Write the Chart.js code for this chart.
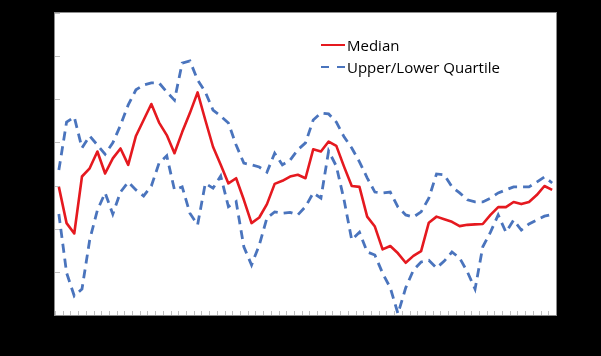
<!DOCTYPE html>
<html>
<head>
<meta charset="utf-8">
<script src="https://cdn.jsdelivr.net/npm/chart.js@4/dist/chart.umd.min.js"></script>
<style>
  html, body { margin: 0; padding: 0; background: #000; }
  #wrap { position: relative; width: 601px; height: 356px; }
  #legend { position: absolute; left: 321px; top: 34px; font-family: 'Open Sans', sans-serif; font-size: 15px; color: #000; line-height: 22px; }
  .item { display: flex; align-items: center; white-space: nowrap; }
  .sw { display: inline-block; width: 24px; height: 2.5px; margin-right: 2px; }
</style>
</head>
<body>
<div id="wrap">
  <canvas id="c" width="601" height="356"></canvas>
  <div id="legend"></div>
</div>
<script>
const categories = [1,2,3,4,5,6,7,8,9,10,11,12,13,14,15,16,17,18,19,20,21,22,23,24,25,26,27,28,29,30,31,32,33,34,35,36,37,38,39,40,41,42,43,44,45,46,47,48,49,50,51,52,53,54,55,56,57,58,59,60,61,62,63,64,65];
const yTicks = [0,1,2,3,4,5,6,7];

const median = [2.97,2.13,1.89,3.21,3.40,3.79,3.28,3.63,3.86,3.48,
                4.15,4.52,4.89,4.46,4.17,3.75,4.24,4.68,5.16,4.52,
                3.90,3.48,3.05,3.17,2.67,2.13,2.26,2.57,3.04,3.11,
                3.21,3.25,3.17,3.84,3.79,4.02,3.92,3.44,2.99,2.97,
                2.28,2.05,1.52,1.60,1.43,1.21,1.37,1.48,2.14,2.28,
                2.22,2.16,2.06,2.09,2.10,2.11,2.32,2.50,2.50,2.62,
                2.57,2.62,2.78,2.99,2.90];

const upper = [3.36,4.47,4.59,3.87,4.15,3.94,3.73,3.99,4.40,4.87,
               5.22,5.33,5.38,5.38,5.17,4.98,5.84,5.89,5.45,5.17,
               4.75,4.61,4.45,3.94,3.52,3.48,3.43,3.31,3.75,3.48,
               3.59,3.83,3.99,4.52,4.68,4.66,4.47,4.13,3.87,3.55,
               3.18,2.85,2.83,2.85,2.50,2.32,2.27,2.39,2.71,3.27,
               3.25,2.97,2.83,2.67,2.62,2.62,2.71,2.83,2.90,2.97,
               2.97,2.97,3.08,3.20,3.06];

const lower = [2.34,0.98,0.44,0.60,1.74,2.43,2.83,2.34,2.85,3.08,
               2.90,2.76,2.99,3.52,3.69,2.90,2.97,2.36,2.09,3.05,
               2.94,3.22,2.51,2.63,1.58,1.16,1.62,2.25,2.39,2.36,
               2.38,2.32,2.51,2.83,2.71,3.80,3.45,2.67,1.74,1.92,
               1.46,1.39,0.97,0.63,0.03,0.63,1.04,1.23,1.27,1.09,
               1.25,1.46,1.32,1.00,0.60,1.58,1.92,2.32,1.92,2.20,
               1.97,2.11,2.20,2.29,2.33];

const RED = '#e5191f';
const BLUE = '#4a74bd';
const DASH = [9, 6];

const frame = {
  id: 'frame',
  beforeDraw(chart) {
    const { ctx, chartArea: a } = chart;
    ctx.save();
    ctx.fillStyle = '#000';
    ctx.fillRect(0, 0, chart.width, chart.height);
    ctx.fillStyle = '#fff';
    ctx.fillRect(a.left, a.top, a.right - a.left, a.bottom - a.top);
    ctx.restore();
  },
  beforeDatasetsDraw(chart) {
    const { ctx, chartArea: a, scales: { x, y } } = chart;
    ctx.save();
    ctx.strokeStyle = '#bfbfbf';
    ctx.lineWidth = 1;
    const step = x.getPixelForValue(1) - x.getPixelForValue(0);
    ctx.beginPath();
    for (let i = 0; i <= categories.length; i++) {
      const px = Math.round(x.getPixelForValue(i) - step / 2) + 0.5;
      ctx.moveTo(px, a.bottom);
      ctx.lineTo(px, a.bottom - 4);
    }
    yTicks.forEach(v => {
      const py = Math.round(y.getPixelForValue(v)) + 0.5;
      ctx.moveTo(a.left, py);
      ctx.lineTo(a.left + 5, py);
    });
    ctx.stroke();
    ctx.restore();
  },
  afterDraw(chart) {
    const { ctx, chartArea: a } = chart;
    ctx.save();
    ctx.strokeStyle = '#8c8c8c';
    ctx.lineWidth = 1;
    ctx.strokeRect(a.left - 0.5, a.top - 0.5, a.right - a.left + 1, a.bottom - a.top + 1);
    ctx.restore();
  }
};

const chart = new Chart(document.getElementById('c'), {
  type: 'line',
  data: {
    labels: categories,
    datasets: [
      { label: 'Median', data: median, borderColor: RED, backgroundColor: RED, borderWidth: 2.6,
        pointRadius: 0, tension: 0, borderJoinStyle: 'round', order: 0 },
      { label: 'Upper/Lower Quartile', data: upper, borderColor: BLUE, backgroundColor: BLUE, borderWidth: 2.8,
        borderDash: DASH, borderCapStyle: 'butt', pointRadius: 0, tension: 0, order: 1 },
      { label: 'Lower Quartile', data: lower, borderColor: BLUE, backgroundColor: BLUE, borderWidth: 2.8,
        borderDash: DASH, borderCapStyle: 'butt', pointRadius: 0, tension: 0, order: 1 }
    ]
  },
  options: {
    responsive: false,
    animation: false,
    devicePixelRatio: 1,
    layout: { padding: { left: 55, right: 45, top: 13, bottom: 41 } },
    plugins: { legend: { display: false }, tooltip: { enabled: false } },
    scales: {
      x: { type: 'category', display: false, offset: true },
      y: { display: false, min: yTicks[0], max: yTicks[yTicks.length - 1], ticks: { stepSize: 1 } }
    }
  },
  plugins: [frame]
});

// HTML legend built from the first two datasets
const legend = document.getElementById('legend');
chart.data.datasets.slice(0, 2).forEach(ds => {
  const row = document.createElement('div');
  row.className = 'item';
  const sw = document.createElement('span');
  sw.className = 'sw';
  if (ds.borderDash) {
    sw.style.background = `linear-gradient(to right, ${ds.borderColor} 0 8px, transparent 8px 16px, ${ds.borderColor} 16px 24px)`;
  } else {
    sw.style.background = ds.borderColor;
  }
  row.appendChild(sw);
  row.appendChild(document.createTextNode(ds.label));
  legend.appendChild(row);
});
</script>
</body>
</html>
